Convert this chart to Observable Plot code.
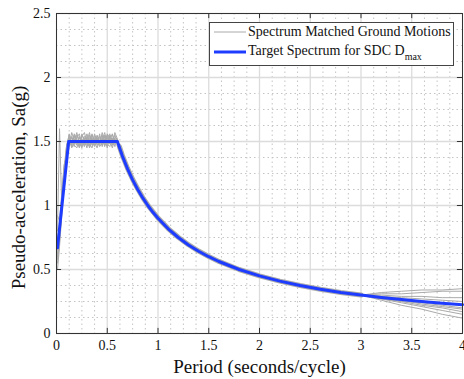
<!DOCTYPE html>
<html><head><meta charset="utf-8">
<script src="https://cdn.jsdelivr.net/npm/d3@7"></script>
<script src="https://cdn.jsdelivr.net/npm/@observablehq/plot@0.6"></script>
<style>
body{margin:0;background:#fff;}
#wrap{position:relative;width:464px;height:379px;font-family:"Liberation Serif","Times New Roman",serif;}
#legend{position:absolute;left:209px;top:22px;width:245px;height:44px;border:1px solid #444;background:#fff;box-sizing:border-box;font-size:14px;color:#111;}
.row{position:absolute;left:4px;height:16px;display:flex;align-items:center;white-space:nowrap;}
.row svg{margin-right:2px;display:block}
sub{font-size:10px;vertical-align:-5px;}
</style></head><body>
<div id="wrap"><div id="chart"></div>
<div id="legend">
<div class="row" style="top:1px"><svg width="32" height="6"><line x1="0" x2="32" y1="3" y2="3" stroke="#aaa" stroke-width="1"/></svg><span>Spectrum Matched Ground Motions</span></div>
<div class="row" style="top:21px"><svg width="32" height="6"><line x1="0" x2="32" y1="3" y2="3" stroke="#1e3cff" stroke-width="3"/></svg><span>Target Spectrum for SDC D<sub>max</sub></span></div>
</div></div>
<script>
const xTicks=[0,0.5,1,1.5,2,2.5,3,3.5,4];
const xTickLabels=["0","0.5","1","1.5","2","2.5","3","3.5","4"];
const yTicks=[0,0.5,1,1.5,2,2.5];
const yTickLabels=["0","0.5","1","1.5","2","2.5"];
const xMinor=[0.125,0.25,0.375,0.625,0.75,0.875,1.125,1.25,1.375,1.625,1.75,1.875,2.125,2.25,2.375,2.625,2.75,2.875,3.125,3.25,3.375,3.625,3.75,3.875];
const yMinor=[0.125,0.25,0.375,0.625,0.75,0.875,1.125,1.25,1.375,1.625,1.75,1.875,2.125,2.25,2.375];

// Target spectrum (blue)
const targetPeriods=[0.01,0.12,0.6,0.65,0.7,0.75,0.8,0.85,0.9,0.95,1.0,1.1,1.2,1.3,1.4,1.5,1.6,1.8,2.0,2.2,2.4,2.6,2.8,3.0,3.2,3.4,3.6,3.8,4.0];
const targetSa=[0.67,1.5,1.5,1.385,1.286,1.2,1.125,1.059,1.0,0.947,0.9,0.818,0.75,0.692,0.643,0.6,0.5625,0.5,0.45,0.409,0.375,0.346,0.321,0.30,0.281,0.265,0.25,0.237,0.225];

// Ground motion records (gray): rising branch
const startPeriods=[0.01,0.03,0.05,0.075];
const startSa=[
[0.62,0.78,1.00,1.25],
[0.55,0.72,0.95,1.20],
[0.80,1.60,1.05,1.30],
[0.70,0.82,1.02,1.28],
[0.50,0.68,0.90,1.18],
[0.92,0.88,1.08,1.32],
[0.66,0.80,0.98,1.24],
[0.58,0.74,0.96,1.22],
[0.75,0.85,1.04,1.27],
[0.60,0.76,0.93,1.21]];
// plateau
const plateauPeriods=[0.10,0.125,0.15,0.175,0.20,0.225,0.25,0.275,0.30,0.325,0.35,0.375,0.40,0.425,0.45,0.475,0.50,0.525,0.55,0.575,0.60];
const plateauSa=[
[1.44,1.52,1.49,1.55,1.47,1.53,1.50,1.46,1.54,1.51,1.48,1.56,1.50,1.47,1.53,1.49,1.55,1.48,1.52,1.50,1.51],
[1.40,1.47,1.54,1.48,1.51,1.45,1.56,1.49,1.47,1.53,1.50,1.46,1.54,1.52,1.48,1.55,1.47,1.51,1.56,1.49,1.50],
[1.47,1.55,1.46,1.50,1.57,1.49,1.45,1.53,1.51,1.47,1.55,1.50,1.48,1.56,1.46,1.52,1.50,1.54,1.47,1.53,1.52],
[1.42,1.49,1.51,1.46,1.53,1.56,1.48,1.51,1.45,1.55,1.49,1.52,1.47,1.50,1.55,1.46,1.53,1.49,1.50,1.55,1.49],
[1.45,1.56,1.48,1.52,1.49,1.47,1.54,1.57,1.49,1.46,1.52,1.48,1.55,1.49,1.51,1.57,1.48,1.46,1.53,1.48,1.50],
[1.38,1.50,1.53,1.47,1.45,1.51,1.49,1.54,1.52,1.48,1.45,1.53,1.51,1.46,1.49,1.52,1.45,1.55,1.51,1.46,1.48],
[1.46,1.48,1.57,1.51,1.48,1.54,1.46,1.50,1.56,1.49,1.53,1.47,1.49,1.54,1.50,1.48,1.56,1.51,1.45,1.52,1.51],
[1.43,1.53,1.45,1.49,1.55,1.50,1.52,1.47,1.50,1.57,1.47,1.51,1.53,1.48,1.57,1.50,1.47,1.53,1.55,1.51,1.49],
[1.41,1.46,1.50,1.54,1.50,1.48,1.55,1.52,1.48,1.50,1.56,1.49,1.45,1.51,1.47,1.54,1.51,1.50,1.48,1.57,1.52],
[1.48,1.51,1.47,1.56,1.52,1.46,1.51,1.48,1.53,1.45,1.50,1.54,1.52,1.49,1.52,1.47,1.53,1.56,1.49,1.47,1.50]];
// descending branch (tightly matched, shared)
const midPeriods=[0.62,0.65,0.7,0.75,0.8,0.85,0.9,1.0,1.1,1.2,1.3,1.4,1.5,1.6,1.8,2.0,2.2,2.4,2.6,2.8,3.0];
const midSa=[1.46,1.39,1.29,1.205,1.13,1.062,1.002,0.902,0.82,0.752,0.694,0.644,0.601,0.563,0.5,0.45,0.409,0.375,0.346,0.321,0.30];
// long-period tail (spread)
const tailPeriods=[3.2,3.4,3.6,3.8,4.0];
const tailSa=[
[0.32,0.33,0.34,0.34,0.35],
[0.29,0.27,0.25,0.24,0.22],
[0.27,0.24,0.21,0.18,0.15],
[0.31,0.31,0.32,0.33,0.33],
[0.28,0.26,0.23,0.21,0.19],
[0.26,0.22,0.19,0.15,0.12],
[0.30,0.29,0.29,0.28,0.28],
[0.28,0.25,0.24,0.22,0.20],
[0.29,0.28,0.27,0.26,0.25],
[0.27,0.25,0.22,0.20,0.17]];

const records=[];
for(let i=0;i<startSa.length;i++){
  startPeriods.forEach((p,j)=>records.push({T:p,Sa:startSa[i][j],rec:i}));
  plateauPeriods.forEach((p,j)=>records.push({T:p,Sa:plateauSa[i][j],rec:i}));
  midPeriods.forEach((p,j)=>records.push({T:p,Sa:midSa[j],rec:i}));
  tailPeriods.forEach((p,j)=>records.push({T:p,Sa:tailSa[i][j],rec:i}));
}
const mid=midPeriods.map((p,j)=>({T:p,Sa:midSa[j]}));
const target=targetPeriods.map((p,j)=>({T:p,Sa:targetSa[j]}));

const axisColor="#333";
const font="Liberation Serif, Times New Roman, serif";
const chart=Plot.plot({
  width:464,height:379,marginLeft:56,marginRight:2,marginTop:13,marginBottom:46,
  x:{domain:[0,4]}, y:{domain:[0,2.5]},
  style:{fontFamily:font,fontSize:"14px",color:"#111",background:"#fff"},
  marks:[
    Plot.ruleX(xMinor,{stroke:"#c4c4c4",strokeDasharray:"1.5,3"}),
    Plot.ruleY(yMinor,{stroke:"#c4c4c4",strokeDasharray:"1.5,3"}),
    Plot.ruleX(xTicks,{stroke:"#dcdcdc",strokeWidth:1.3}),
    Plot.ruleY(yTicks,{stroke:"#dcdcdc",strokeWidth:1.3}),
    Plot.line(mid,{x:"T",y:"Sa",stroke:"#aaa",strokeWidth:5}),
    Plot.line(records,{x:"T",y:"Sa",z:"rec",stroke:"#aaa",strokeWidth:1}),
    Plot.line(target,{x:"T",y:"Sa",stroke:"#1e3cff",strokeWidth:3}),
    Plot.frame({stroke:axisColor}),
    Plot.ruleX(xTicks,{y1:0,y2:0.04,stroke:axisColor}),
    Plot.ruleX(xTicks,{y1:2.46,y2:2.5,stroke:axisColor}),
    Plot.ruleY(yTicks,{x1:0,x2:0.05,stroke:axisColor}),
    Plot.ruleY(yTicks,{x1:3.95,x2:4,stroke:axisColor}),
    Plot.axisX(xTicks,{tickSize:0,tickPadding:7,tickFormat:d=>xTickLabels[xTicks.indexOf(d)],label:null}),
    Plot.axisY(yTicks,{tickSize:0,tickPadding:6,tickFormat:d=>yTickLabels[yTicks.indexOf(d)],label:null}),
    Plot.text(["Period (seconds/cycle)"],{text:d=>d,frameAnchor:"bottom",lineAnchor:"middle",textAnchor:"middle",dy:33,fontSize:19}),
    Plot.text(["Pseudo-acceleration, Sa(g)"],{text:d=>d,frameAnchor:"left",textAnchor:"middle",lineAnchor:"middle",rotate:-90,dx:-38,dy:14,fontSize:19})
  ]
});
document.getElementById("chart").appendChild(chart);
</script>
</body></html>
